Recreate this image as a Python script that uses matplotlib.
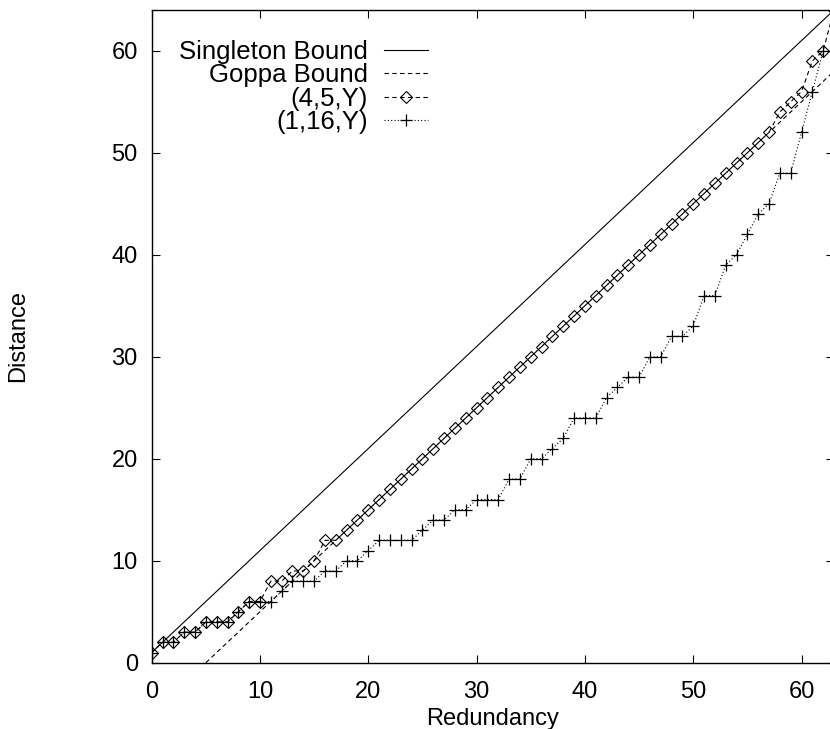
import matplotlib
matplotlib.use("Agg")
import matplotlib.pyplot as plt
import numpy as np

plt.rcParams['font.family'] = ['Liberation Sans', 'DejaVu Sans']

# Data
redundancy_bounds = [0, 63]
singleton = [1, 64]
goppa_x = [5, 63]
goppa_y = [0, 58]

x_45 = list(range(0, 64))
y_45 = [1, 2, 2, 3, 3, 4, 4, 4, 5, 6, 6, 8, 8, 9, 9, 10, 12, 12, 13, 14,
        15, 16, 17, 18, 19, 20, 21, 22, 23, 24, 25, 26, 27, 28, 29, 30, 31, 32, 33, 34,
        35, 36, 37, 38, 39, 40, 41, 42, 43, 44, 45, 46, 47, 48, 49, 50, 51, 52, 54, 55,
        56, 59, 60, 64]

x_116 = list(range(0, 63))
y_116 = [1, 2, 2, 3, 3, 4, 4, 4, 5, 6, 6, 6, 7, 8, 8, 8, 9, 9, 10, 10,
         11, 12, 12, 12, 12, 13, 14, 14, 15, 15, 16, 16, 16, 18, 18, 20, 20, 21, 22, 24,
         24, 24, 26, 27, 28, 28, 30, 30, 32, 32, 33, 36, 36, 39, 40, 42, 44, 45, 48, 48,
         52, 56, 60]

xticks = [0, 10, 20, 30, 40, 50, 60]
yticks = [0, 10, 20, 30, 40, 50, 60]

W, H = 830, 729
fig = plt.figure(figsize=(W / 100, H / 100), dpi=100)
left, right, bottom, top = 151.7, 834.0, 66.3, 719.0
ax = fig.add_axes([left / W, bottom / H, (right - left) / W, (top - bottom) / H])

fs = 17
lw = 0.8
ax.plot(redundancy_bounds, singleton, color='black', lw=lw, label='Singleton Bound')
ax.plot(goppa_x, goppa_y, color='black', lw=lw, ls=(0, (4, 3)), label='Goppa Bound')
ax.plot(x_45, y_45, color='black', lw=lw, ls=(0, (4, 3)), marker='D', markersize=6.5,
        markerfacecolor='none', markeredgecolor='black', markeredgewidth=0.8, label='(4,5,Y)')
ax.plot(x_116, y_116, color='black', lw=lw, ls=(0, (1, 2)), marker='+', markersize=9,
        markeredgewidth=0.9, label='(1,16,Y)')

ax.set_xlim(0, 63)
ax.set_ylim(0, 64)
ax.set_xticks(xticks)
ax.set_yticks(yticks)
ax.tick_params(direction='in', length=6, width=0.8, top=True, right=True,
               labelsize=fs, pad=10)
ax.tick_params(axis='x', pad=13)
for s in ax.spines.values():
    s.set_linewidth(1.0)

ax.set_xlabel('Redundancy', fontsize=fs, labelpad=4)
ax.set_ylabel('Distance', fontsize=fs, labelpad=59)

leg = ax.legend(loc='upper right', bbox_to_anchor=(428 / W, 1 - 40 / H),
                bbox_transform=fig.transFigure, frameon=False, markerfirst=False,
                fontsize=18.5, handlelength=1.7, handletextpad=0.65, labelspacing=-0.02,
                borderpad=0, borderaxespad=0)

fig.savefig('out.png', dpi=100)
